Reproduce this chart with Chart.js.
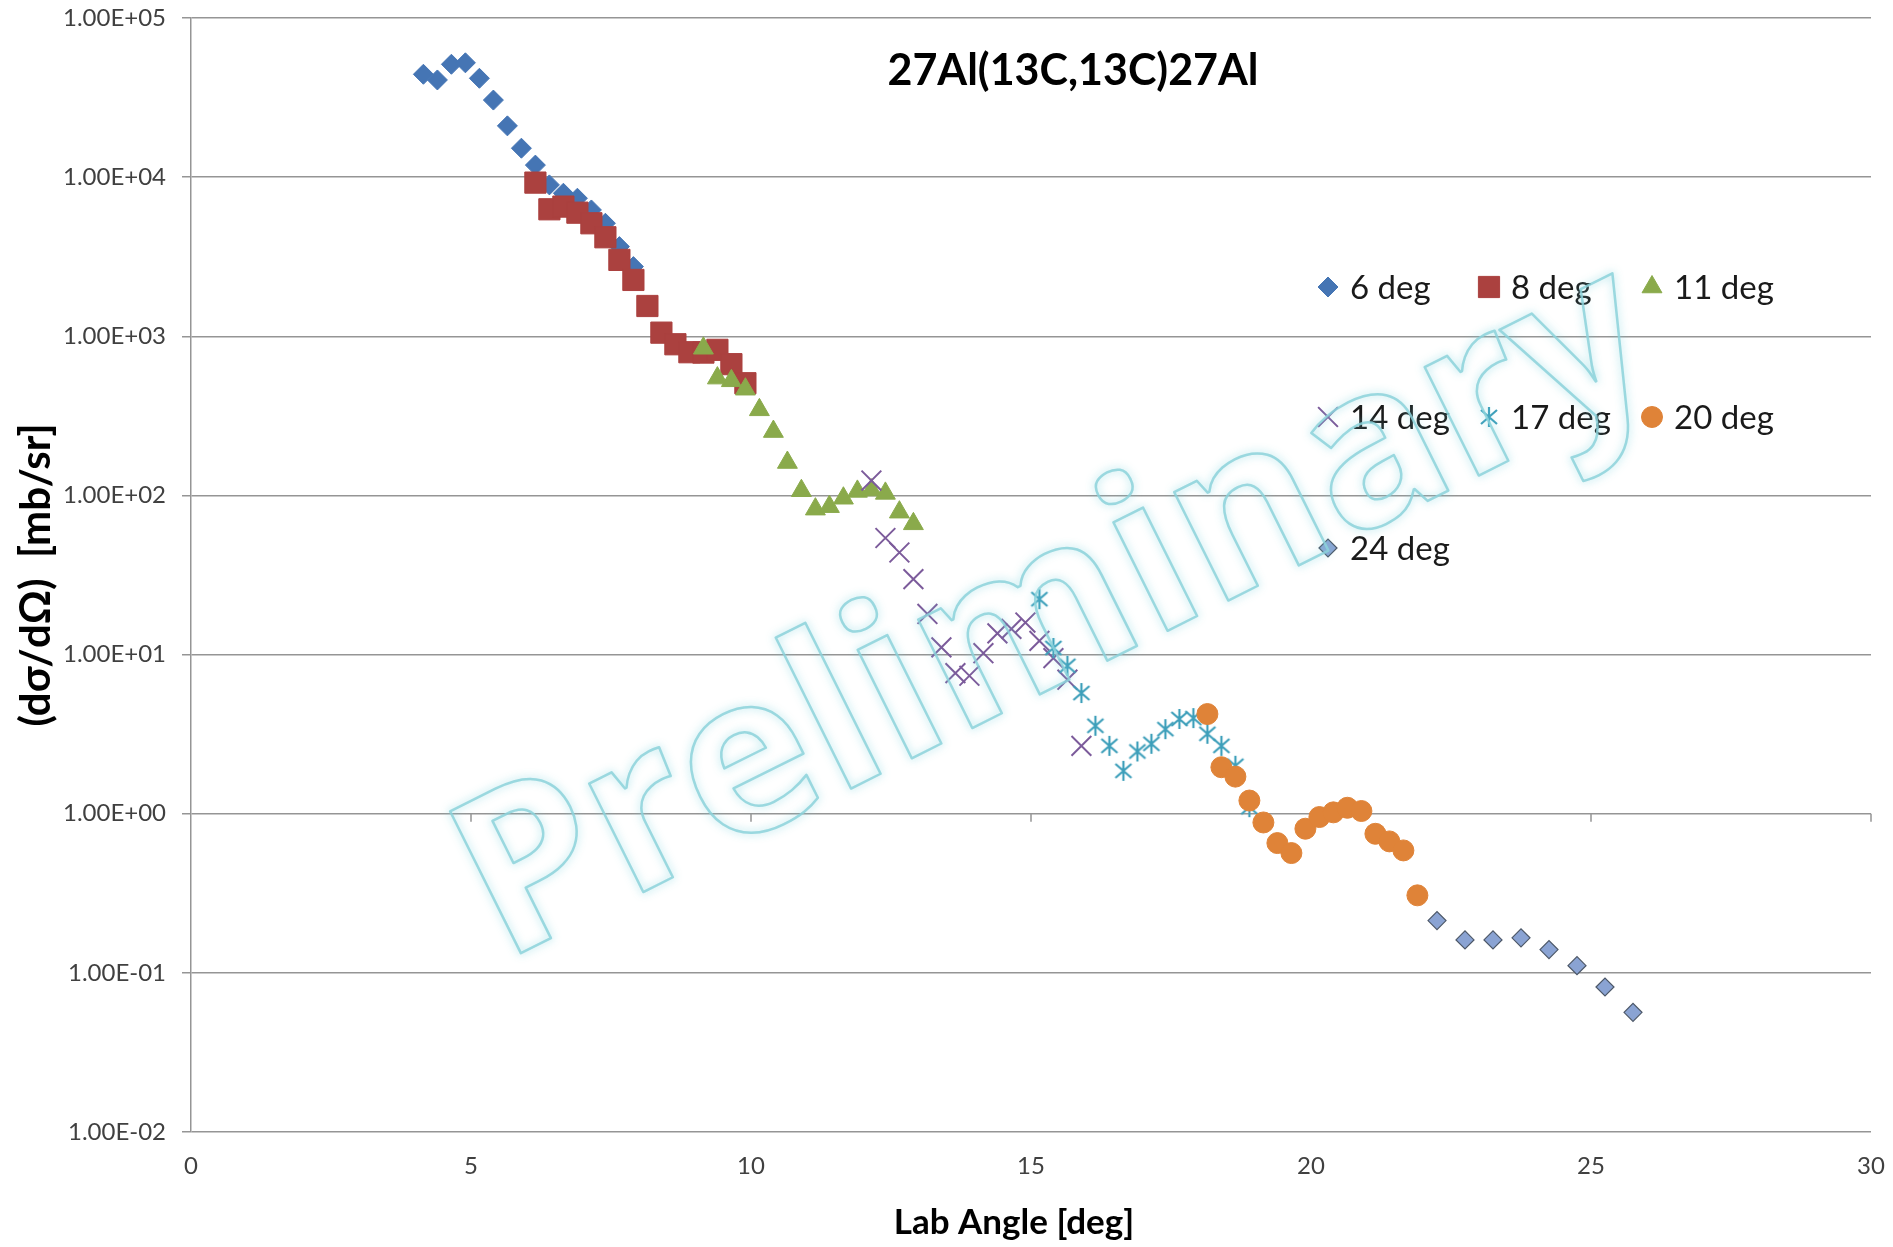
<!DOCTYPE html>
<html>
<head>
<meta charset="utf-8">
<title>27Al(13C,13C)27Al</title>
<script src="https://cdn.jsdelivr.net/npm/chart.js@4.4.1/dist/chart.umd.min.js"></script>
<style>
  html, body { margin: 0; padding: 0; background: #ffffff; }
  #wrap { width: 1893px; height: 1247px; }
</style>
</head>
<body>
<div id="wrap"><canvas id="chart" width="1893" height="1247"></canvas></div>
<script>
// ===============================
// DATA
// ===============================

const angles6 = [4.15, 4.4, 4.65, 4.9, 5.15, 5.4, 5.65, 5.9, 6.15, 6.4, 6.65, 6.9, 7.15, 7.4, 7.65, 7.9];
const sigma6 = [44300, 40800, 51200, 52300, 41800, 30500, 21000, 15200, 11900, 8940, 7920, 7370, 6220, 5130, 3660, 2740];

const angles8 = [6.15, 6.4, 6.65, 6.9, 7.15, 7.4, 7.65, 7.9, 8.15, 8.4, 8.65, 8.9, 9.15, 9.4, 9.65, 9.9];
const sigma8 = [9240, 6280, 6530, 5980, 5130, 4190, 3020, 2260, 1550, 1054, 891, 794, 790, 822, 668, 507];

const angles11 = [9.15, 9.4, 9.65, 9.9, 10.15, 10.4, 10.65, 10.9, 11.15, 11.4, 11.65, 11.9, 12.15, 12.4, 12.65, 12.9];
const sigma11 = [841, 546, 525, 465, 345, 252, 161, 107, 82, 85, 96, 106, 108, 103, 78.5, 66.3];

const angles14 = [12.15, 12.4, 12.65, 12.9, 13.15, 13.4, 13.65, 13.9, 14.15, 14.4, 14.65, 14.9, 15.15, 15.4, 15.65, 15.9];
const sigma14 = [124, 54, 43.8, 29.8, 18.0, 11.1, 7.65, 7.36, 10.2, 13.6, 14.5, 15.9, 12.2, 9.5, 6.95, 2.67];

const angles17 = [15.15, 15.4, 15.65, 15.9, 16.15, 16.4, 16.65, 16.9, 17.15, 17.4, 17.65, 17.9, 18.15, 18.4, 18.65, 18.9];
const sigma17 = [22.3, 11.0, 8.5, 5.73, 3.57, 2.67, 1.86, 2.46, 2.75, 3.40, 3.94, 3.99, 3.18, 2.67, 2.0, 1.1];

const angles20 = [18.15, 18.4, 18.65, 18.9, 19.15, 19.4, 19.65, 19.9, 20.15, 20.4, 20.65, 20.9, 21.15, 21.4, 21.65, 21.9];
const sigma20 = [4.23, 1.96, 1.71, 1.21, 0.881, 0.654, 0.566, 0.805, 0.953, 1.02, 1.09, 1.04, 0.748, 0.670, 0.588, 0.307];

const angles24 = [22.25, 22.75, 23.25, 23.75, 24.25, 24.75, 25.25, 25.75];
const sigma24 = [0.213, 0.161, 0.161, 0.166, 0.140, 0.111, 0.0815, 0.0565];

const seriesLabels = ["6 deg", "8 deg", "11 deg", "14 deg", "17 deg", "20 deg", "24 deg"];

const xTickValues = [0, 5, 10, 15, 20, 25, 30];
const yTickValues = [1e-2, 1e-1, 1e0, 1e1, 1e2, 1e3, 1e4, 1e5];

const chartTitle = "27Al(13C,13C)27Al";
const xAxisTitle = "Lab Angle [deg]";
const watermarkText = "Preliminary";

// ===============================
// STYLING
// ===============================

const gridColor = "#959595";
const textColor = "#404040";
const fontFamily = "Lato, 'Liberation Sans', sans-serif";

// Excel-style asterisk marker (vertical bar + X)
function makeAsterisk(color) {
    const c = document.createElement("canvas");
    c.width = 24;
    c.height = 24;
    const g = c.getContext("2d");
    g.strokeStyle = color;
    g.lineWidth = 2.2;
    g.beginPath();
    g.moveTo(12, 2); g.lineTo(12, 22);
    g.moveTo(4, 5); g.lineTo(20, 19);
    g.moveTo(20, 5); g.lineTo(4, 19);
    g.stroke();
    return c;
}

const toPoints = (xs, ys) => xs.map((x, i) => ({ x, y: ys[i] }));

const seriesStyles = [
    { pointStyle: "rectRot", pointRadius: 10, backgroundColor: "#4575b4", borderColor: "#4575b4", borderWidth: 1 },
    { pointStyle: "rect", pointRadius: 15, backgroundColor: "#ab413f", borderColor: "#ab413f", borderWidth: 1 },
    { pointStyle: "triangle", pointRadius: 11.5, backgroundColor: "#8aaa4b", borderColor: "#8aaa4b", borderWidth: 1 },
    { pointStyle: "crossRot", pointRadius: 14, backgroundColor: "#7c5b9b", borderColor: "#7c5b9b", borderWidth: 2 },
    { pointStyle: makeAsterisk("#3d9fba"), pointRadius: 12, backgroundColor: "#3d9fba", borderColor: "#3d9fba", borderWidth: 2 },
    { pointStyle: "circle", pointRadius: 10.5, backgroundColor: "#df8338", borderColor: "#df8338", borderWidth: 1 },
    { pointStyle: "rectRot", pointRadius: 9, backgroundColor: "#8aa3d3", borderColor: "#4d5868", borderWidth: 1.2 }
];

const seriesData = [
    toPoints(angles6, sigma6),
    toPoints(angles8, sigma8),
    toPoints(angles11, sigma11),
    toPoints(angles14, sigma14),
    toPoints(angles17, sigma17),
    toPoints(angles20, sigma20),
    toPoints(angles24, sigma24)
];

// ===============================
// PLUGINS
// ===============================

// x axis crosses at 1.00E+00 with small downward ticks
const axisTicksAtOne = {
    id: "axisTicksAtOne",
    beforeDatasetsDraw(chart) {
        const { ctx, scales: { x, y } } = chart;
        const y1 = y.getPixelForValue(1);
        ctx.save();
        ctx.strokeStyle = gridColor;
        ctx.lineWidth = 1.5;
        xTickValues.slice(1).forEach(v => {
            const px = x.getPixelForValue(v);
            ctx.beginPath();
            ctx.moveTo(px, y1);
            ctx.lineTo(px, y1 + 8);
            ctx.stroke();
        });
        ctx.restore();
    }
};

// chart title sits inside the plot; x title is a bit left of centre in the original
const innerTitle = {
    id: "innerTitle",
    afterDatasetsDraw(chart) {
        const ctx = chart.ctx;
        ctx.save();
        ctx.font = "bold 43px " + fontFamily;
        ctx.fillStyle = "#000000";
        ctx.textAlign = "center";
        ctx.textBaseline = "middle";
        ctx.fillText(chartTitle, 1073, 71);
        ctx.font = "bold 35px " + fontFamily;
        ctx.fillText(xAxisTitle, 1014, 1223);
        ctx.restore();
    }
};

const legendCols = [1328, 1489, 1652];
const legendRows = [287, 417, 548];

const innerLegend = {
    id: "innerLegend",
    afterDatasetsDraw(chart) {
        const ctx = chart.ctx;
        chart.data.datasets.forEach((ds, i) => {
            const cx = legendCols[i % 3];
            const cy = legendRows[Math.floor(i / 3)];
            ctx.save();
            ctx.fillStyle = ds.backgroundColor;
            ctx.strokeStyle = ds.borderColor;
            ctx.lineWidth = ds.borderWidth;
            Chart.helpers.drawPoint(ctx, {
                pointStyle: ds.pointStyle,
                radius: ds.pointRadius,
                borderWidth: ds.borderWidth,
                rotation: 0
            }, cx, cy);
            ctx.font = "33px " + fontFamily;
            ctx.fillStyle = "#1a1a1a";
            ctx.textAlign = "left";
            ctx.textBaseline = "middle";
            ctx.fillText(ds.label, cx + 22, cy + 1);
            ctx.restore();
        });
    }
};

const watermark = {
    id: "watermark",
    afterDraw(chart) {
        const ctx = chart.ctx;
        ctx.save();
        ctx.translate(503, 962);
        ctx.rotate(-26.5 * Math.PI / 180);
        let size = 220;
        ctx.font = "bold " + size + "px 'Open Sans', sans-serif";
        size = size * 1300 / ctx.measureText(watermarkText).width;
        ctx.font = "bold " + size.toFixed(1) + "px 'Open Sans', sans-serif";
        ctx.textAlign = "left";
        ctx.textBaseline = "alphabetic";
        ctx.lineJoin = "round";
        ctx.shadowColor = "rgba(120, 210, 220, 0.9)";
        ctx.shadowBlur = 8;
        ctx.strokeStyle = "rgba(140, 210, 218, 0.85)";
        ctx.lineWidth = 2.5;
        ctx.strokeText(watermarkText, 0, 0);
        ctx.restore();
    }
};

// drop the automatic label overhang padding so the plot area follows layout.padding
const noAutoPadding = (scale) => {
    scale.paddingTop = 0;
    scale.paddingBottom = 0;
    scale.paddingLeft = 0;
    scale.paddingRight = 0;
};

// ===============================
// CHART
// ===============================

new Chart(document.getElementById("chart"), {
    type: "scatter",
    data: {
        datasets: seriesLabels.map((label, i) => ({
            label,
            data: seriesData[i],
            showLine: false,
            order: seriesLabels.length - i,
            pointHoverRadius: seriesStyles[i].pointRadius,
            ...seriesStyles[i]
        }))
    },
    options: {
        responsive: false,
        devicePixelRatio: 1,
        animation: false,
        layout: {
            padding: { top: 18, right: 22, left: 0, bottom: 0 }
        },
        plugins: {
            legend: { display: false },
            tooltip: { enabled: false }
        },
        scales: {
            x: {
                type: "linear",
                min: 0,
                max: 30,
                afterFit: (scale) => { scale.height = 115; noAutoPadding(scale); },
                afterBuildTicks: (scale) => {
                    scale.ticks = xTickValues.map(v => ({ value: v }));
                },
                grid: { display: false, drawTicks: false },
                border: { display: false },
                ticks: {
                    color: textColor,
                    padding: 20,
                    font: { family: fontFamily, size: 24 }
                },
                title: { display: false }
            },
            y: {
                type: "logarithmic",
                min: 1e-2,
                max: 1e5,
                afterFit: (scale) => { scale.width = 191; noAutoPadding(scale); },
                afterBuildTicks: (scale) => {
                    scale.ticks = yTickValues.map(v => ({ value: v, major: true }));
                },
                grid: {
                    color: gridColor,
                    lineWidth: 1.5,
                    drawTicks: true,
                    tickLength: 9
                },
                border: { display: true, color: gridColor, width: 1.5 },
                ticks: {
                    autoSkip: false,
                    color: textColor,
                    padding: 16,
                    font: { family: fontFamily, size: 24 },
                    callback: (v) => {
                        const e = Math.round(Math.log10(v));
                        return "1.00E" + (e < 0 ? "-" : "+") + String(Math.abs(e)).padStart(2, "0");
                    }
                },
                title: {
                    display: true,
                    text: "(dσ/dΩ)  [mb/sr]",
                    color: "#000000",
                    padding: { top: 11, bottom: 0 },
                    font: { family: fontFamily, size: 42, weight: "bold" }
                }
            }
        }
    },
    plugins: [axisTicksAtOne, innerTitle, innerLegend, watermark]
});
</script>
</body>
</html>
